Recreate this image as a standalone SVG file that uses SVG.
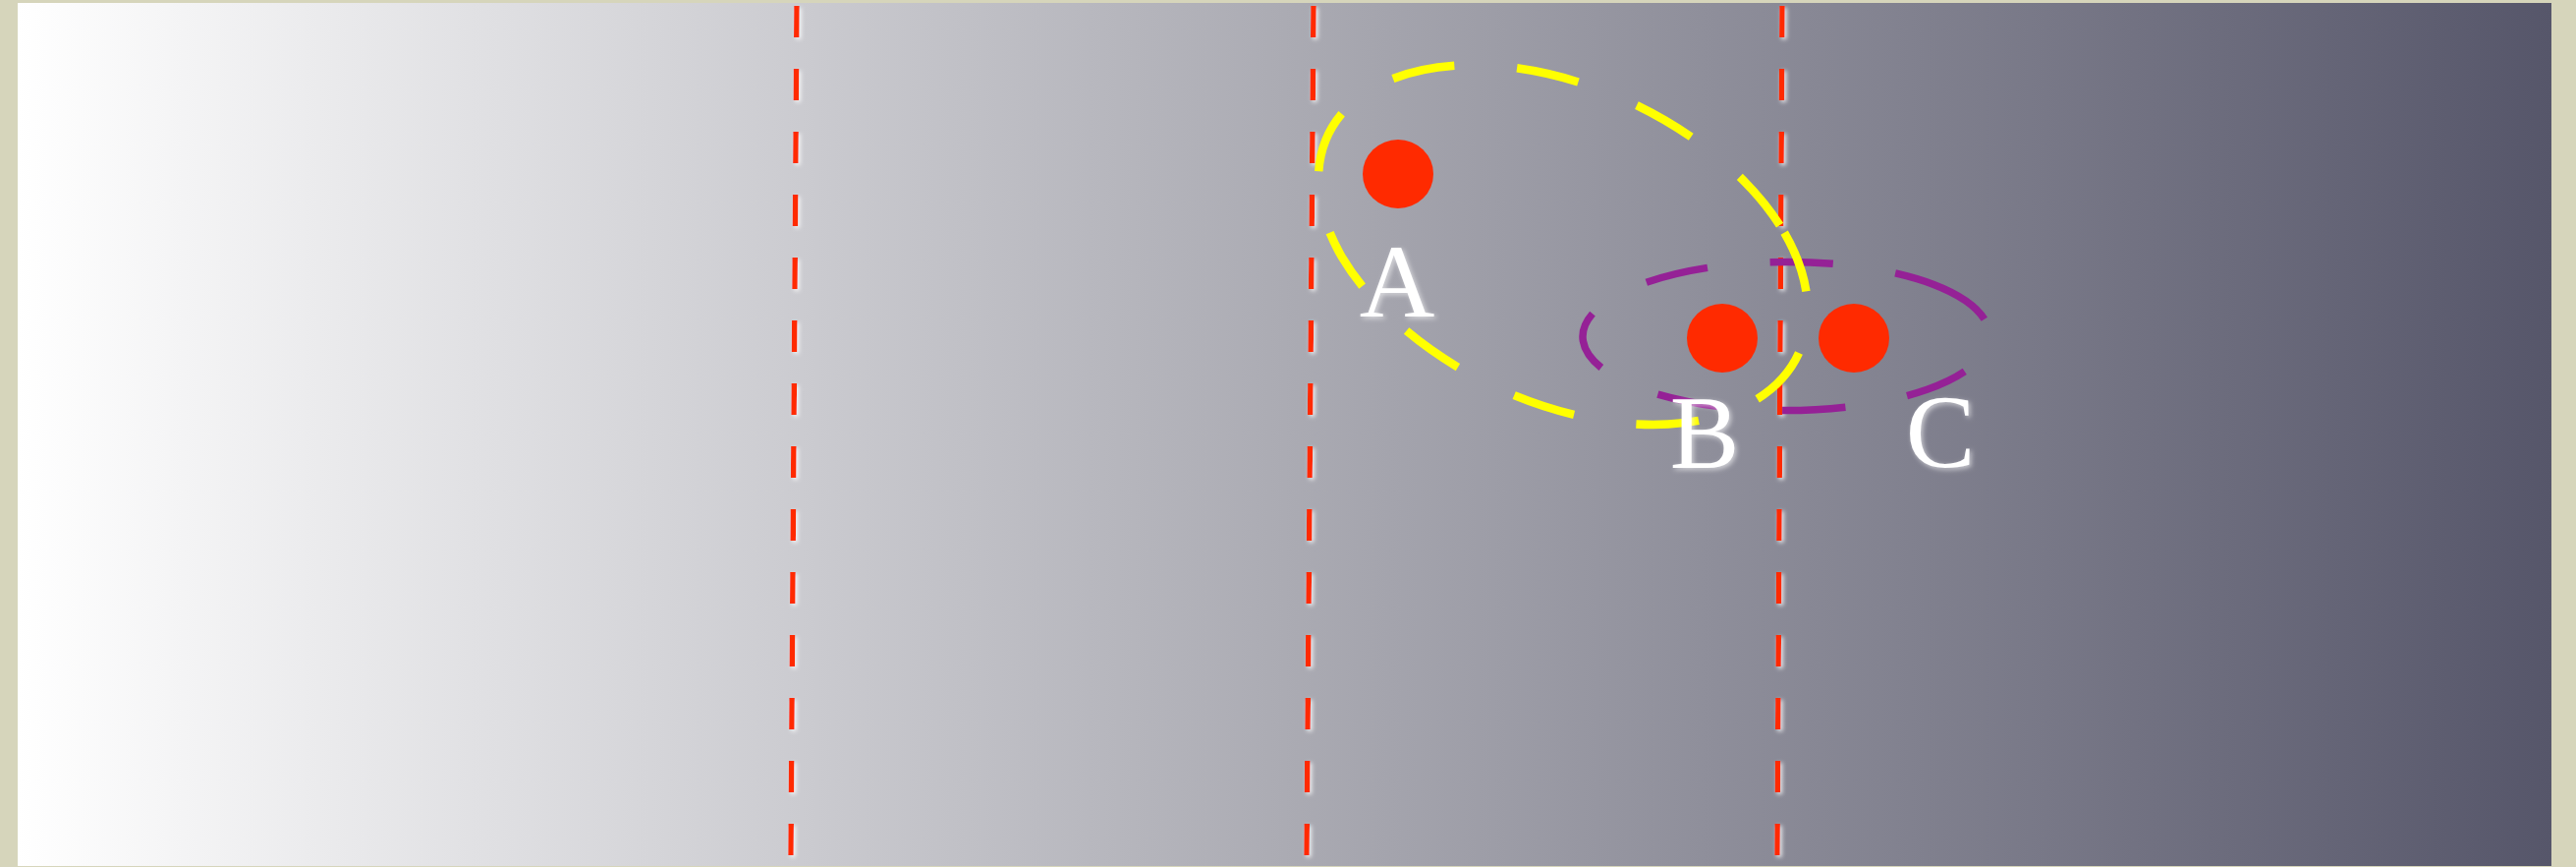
<svg xmlns="http://www.w3.org/2000/svg" width="2622" height="882" viewBox="0 0 2622 882">
  <defs>
    <linearGradient id="panelGrad" x1="0" y1="0" x2="1" y2="0">
      <stop offset="0" stop-color="#ffffff"/>
      <stop offset="0.5" stop-color="#ababb3"/>
      <stop offset="1" stop-color="#56566a"/>
    </linearGradient>
    <filter id="lineGlow" x="-200%" y="-5%" width="500%" height="110%">
      <feDropShadow dx="2" dy="2" stdDeviation="2" flood-color="#ffffff" flood-opacity="0.8"/>
    </filter>
    <filter id="textGlow" x="-30%" y="-30%" width="160%" height="160%">
      <feGaussianBlur in="SourceAlpha" stdDeviation="2.5" result="b"/>
      <feFlood flood-color="#ffffff" flood-opacity="0.6"/>
      <feComposite in2="b" operator="in" result="g"/>
      <feOffset in="g" dx="1.5" dy="1.5" result="go"/>
      <feMerge>
        <feMergeNode in="go"/>
        <feMergeNode in="SourceGraphic"/>
      </feMerge>
    </filter>
  </defs>
  <style>
    .divider { stroke: #ff2a00; stroke-width: 5.5; stroke-dasharray: 32 32; fill: none; filter: url(#lineGlow); }
    .dot { fill: #ff2a00; }
    .label { font-family: "Liberation Serif", "Times New Roman", serif; font-size: 106px; fill: #ffffff; text-anchor: middle; filter: url(#textGlow); }
    .ring { fill: none; stroke-dasharray: 64 64; }
  </style>

  <rect x="0" y="0" width="2622" height="882" fill="#d6d5bb"/>
  <rect x="18" y="3" width="2579" height="878" fill="url(#panelGrad)"/>

  <g id="dividers">
    <line class="divider" x1="811" y1="6" x2="805" y2="870"/>
    <line class="divider" x1="1337" y1="6" x2="1330" y2="870"/>
    <line class="divider" x1="1814" y1="6" x2="1809" y2="870"/>
  </g>

  <g id="connectors">
    <path id="ring-BC" class="ring" stroke="#952196" stroke-width="7.5" d="M 1967.6 289.2 A 208 76 0 0 1 1668.4 394.8 A 208 76 0 0 1 1967.6 289.2"/>
    <path id="ring-AB" class="ring" stroke="#ffff00" stroke-width="8.5" d="M 1816.2 236.6 A 265 161 25 0 1 1365.8 261.4 A 265 161 25 0 1 1816.2 236.6"/>
  </g>

  <g id="node-A">
    <ellipse class="dot" cx="1423" cy="177" rx="36" ry="35"/>
    <text class="label" x="1422" y="322">A</text>
  </g>
  <g id="node-B">
    <ellipse class="dot" cx="1753" cy="344" rx="36" ry="35"/>
    <text class="label" x="1735" y="476">B</text>
  </g>
  <g id="node-C">
    <ellipse class="dot" cx="1887" cy="344" rx="36" ry="35"/>
    <text class="label" x="1975" y="475">C</text>
  </g>
</svg>
